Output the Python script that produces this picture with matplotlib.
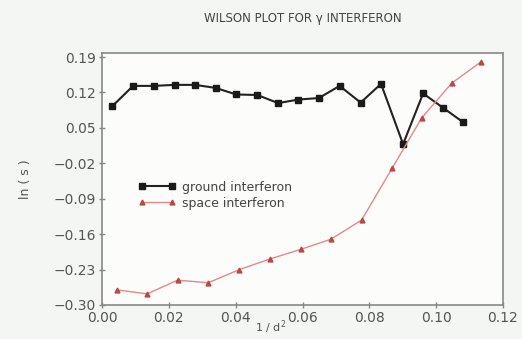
import numpy as np
import matplotlib
matplotlib.use('Agg')
import matplotlib.pyplot as plt

# ground interferon (black squares)
ground_x = [0.0031, 0.0093, 0.0155, 0.0217, 0.0279, 0.0340, 0.0402, 0.0465, 0.0527,
            0.0588, 0.0649, 0.0711, 0.0774, 0.0835, 0.0901, 0.0961, 0.1020, 0.1079]
ground_y = [0.093, 0.133, 0.133, 0.135, 0.135, 0.129, 0.116, 0.115, 0.099,
            0.106, 0.109, 0.133, 0.100, 0.137, 0.018, 0.118, 0.090, 0.062]

# space interferon (red triangles)
space_x = [0.0044, 0.0135, 0.0226, 0.0318, 0.0411, 0.0503, 0.0595, 0.0685, 0.0777,
           0.0868, 0.0957, 0.1046, 0.1135]
space_y = [-0.270, -0.278, -0.251, -0.256, -0.230, -0.209, -0.190, -0.170, -0.132,
           -0.030, 0.070, 0.138, 0.181]

xticks = [0.00, 0.02, 0.04, 0.06, 0.08, 0.10, 0.12]
yticks = [-0.30, -0.23, -0.16, -0.09, -0.02, 0.05, 0.12, 0.19]

plt.rcParams['font.family'] = ['DejaVu Sans']
plt.rcParams['axes.unicode_minus'] = True

fig = plt.figure(figsize=(5.22, 3.39), dpi=100, facecolor='#f3f6f3')
ax = fig.add_axes([102/522, 1-305/339, 401/522, 252/339], facecolor='#fcfcfa')

ax.plot(ground_x, ground_y, color='#222222', lw=1.5, marker='s', ms=4.5,
        mfc='#1a1a1a', mec='#1a1a1a', label='ground interferon')
ax.plot(space_x, space_y, color='#e58888', lw=1.0, marker='^', ms=3.5,
        mfc='#b84848', mec='#b84848', label='space interferon')

ax.set_xlim(0, 0.12)
ax.set_ylim(-0.30, 0.198)
ax.set_xticks(xticks)
ax.set_xticklabels([f'{v:.2f}' for v in xticks])
ax.set_yticks(yticks)
ax.set_yticklabels([f'{v:.2f}'.replace('-', '\u2212') for v in yticks])
ax.tick_params(direction='inout', length=5, width=1, colors='#888888',
               labelcolor='#555555', labelsize=10, pad=2)
for s in ax.spines.values():
    s.set_color('#888888')
    s.set_linewidth(1.2)

ax.set_title('WILSON PLOT FOR \u03b3 INTERFERON', fontsize=8.5, color='#444444', pad=22)
ax.set_xlabel('1 / d$^2$', fontsize=8, color='#555555')
ax.xaxis.set_label_coords(0.42, -0.055)
ax.set_ylabel('ln ( s )', fontsize=9, color='#555555')
ax.yaxis.set_label_coords(-0.175, 0.5)

ax.legend(loc='center left', bbox_to_anchor=(0.09, 0.436), frameon=False,
          fontsize=9, numpoints=2, handlelength=3.0, handletextpad=0.5,
          labelspacing=0.25, borderpad=0, borderaxespad=0, labelcolor='#444444')

plt.savefig('out.png', dpi=100, facecolor=fig.get_facecolor())
